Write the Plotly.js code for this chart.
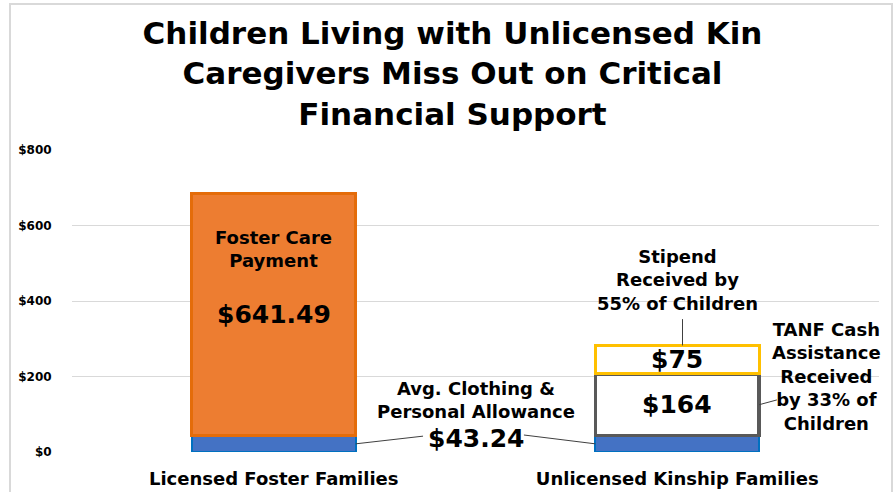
<!DOCTYPE html>
<html>
<head>
<meta charset="utf-8">
<script src="https://cdn.plot.ly/plotly-3.0.1.min.js"></script>
<style>
  html, body { margin: 0; padding: 0; background: #ffffff; }
  #wrap { position: relative; width: 896px; height: 492px; overflow: hidden; }
  #chart { position: absolute; left: 0; top: 0; width: 896px; height: 492px; }
  #frame { position: absolute; left: 9px; top: 3px; width: 884px; height: 520px;
           border: 2px solid #d9d9d9; pointer-events: none; box-sizing: border-box; }
</style>
</head>
<body>
<div id="wrap">
  <div id="chart"></div>
  <div id="frame"></div>
</div>
<script>
// ---- Data ----
const categories = ['Licensed Foster Families', 'Unlicensed Kinship Families'];
const clothingAllowance = [43.24, 43.24];   // Avg. Clothing & Personal Allowance
const fosterCarePayment = [641.49, null];   // Foster Care Payment
const tanfCash = [null, 164];               // TANF Cash Assistance
const kinshipStipend = [null, 75];          // Stipend
const yTickVals = [0, 200, 400, 600, 800];
const yTickText = ['$0', '$200', '$400', '$600', '$800'];
const titleText = 'Children Living with Unlicensed Kin<br>Caregivers Miss Out on Critical<br>Financial Support';

// ---- Style ----
const FONT = 'DejaVu Sans, Verdana, Arial, sans-serif';
const barWidth = 0.406;
const half = barWidth / 2;

const traces = [
  { type: 'bar', x: categories, y: clothingAllowance, width: barWidth,
    marker: { color: '#4472C4', line: { color: '#0070C0', width: 2 } }, hoverinfo: 'skip' },
  { type: 'bar', x: categories, y: fosterCarePayment, width: barWidth,
    marker: { color: '#ED7D31', line: { color: '#E46C0A', width: 3 } }, hoverinfo: 'skip' },
  { type: 'bar', x: categories, y: tanfCash, width: barWidth,
    marker: { color: '#FFFFFF', line: { color: '#595959', width: 3.5 } }, hoverinfo: 'skip' },
  { type: 'bar', x: categories, y: kinshipStipend, width: barWidth,
    marker: { color: '#FFFFFF', line: { color: '#FFC000', width: 3 } }, hoverinfo: 'skip' }
];

const fmt2 = v => '$' + v.toFixed(2);
const fmt0 = v => '$' + Math.round(v);

const labelFont = { family: FONT, size: 18, color: '#000000', weight: 'bold' };
const bigFont = { family: FONT, size: 25, color: '#000000', weight: 'bold' };

const leftMidFoster = clothingAllowance[0] + fosterCarePayment[0] / 2;
const rightTanfMid = clothingAllowance[1] + tanfCash[1] / 2;
const rightStipMid = clothingAllowance[1] + tanfCash[1] + kinshipStipend[1] / 2;
const rightTop = clothingAllowance[1] + tanfCash[1] + kinshipStipend[1];

const annotations = [
  { x: 0, y: 539, text: 'Foster Care<br>Payment', font: labelFont },
  { x: 0, y: leftMidFoster, text: fmt2(fosterCarePayment[0]), font: bigFont },
  { x: 0.5, y: 138, text: 'Avg. Clothing &<br>Personal Allowance', font: labelFont },
  { x: 0.5, y: 37, text: fmt2(clothingAllowance[0]), font: bigFont },
  { x: 1, y: 455, text: 'Stipend<br>Received by<br>55% of Children', font: labelFont },
  { x: 1, y: rightStipMid, text: fmt0(kinshipStipend[1]), font: bigFont },
  { x: 1, y: rightTanfMid, text: fmt0(tanfCash[1]), font: bigFont },
  { x: 1.369, y: 199, text: 'TANF Cash<br>Assistance<br>Received<br>by 33% of<br>Children', font: labelFont }
].map(a => Object.assign({ xref: 'x', yref: 'y', showarrow: false, xanchor: 'center', yanchor: 'middle' }, a));

const leader = { color: '#404040', width: 1 };
const shapes = [
  { type: 'line', xref: 'x', yref: 'y', x0: 0 + half, y0: clothingAllowance[0] / 2, x1: 0.37, y1: 42, line: leader },
  { type: 'line', xref: 'x', yref: 'y', x0: 0.62, y0: 45, x1: 1 - half, y1: clothingAllowance[1] / 2, line: leader },
  { type: 'line', xref: 'x', yref: 'y', x0: 1.013, y0: 352, x1: 1.013, y1: rightTop, line: leader },
  { type: 'line', xref: 'x', yref: 'y', x0: 1 + half, y0: rightTanfMid, x1: 1.247, y1: 138, line: leader }
];

const layout = {
  width: 896, height: 492,
  margin: { l: 72, r: 17, t: 150, b: 40 },
  paper_bgcolor: '#FFFFFF', plot_bgcolor: '#FFFFFF',
  barmode: 'stack',
  showlegend: false,
  title: {
    text: titleText,
    font: { family: FONT, size: 31, color: '#000000', weight: 'bold' },
    x: 0.505, xanchor: 'center',
    y: 1 - 44 / 492, yanchor: 'middle', yref: 'container'
  },
  xaxis: {
    type: 'category', range: [-0.5, 1.5],
    showgrid: false, zeroline: false, showline: false,
    ticks: 'outside', ticklen: 10, tickcolor: 'rgba(0,0,0,0)',
    tickfont: { family: FONT, size: 18, color: '#000000', weight: 'bold' }
  },
  yaxis: {
    range: [0, 800],
    tickvals: yTickVals, ticktext: yTickText,
    showgrid: true, gridcolor: '#d9d9d9', gridwidth: 1,
    zeroline: false, showline: false,
    ticks: 'outside', ticklen: 17, tickcolor: 'rgba(0,0,0,0)',
    tickfont: { family: FONT, size: 12, color: '#000000', weight: 'bold' }
  },
  annotations: annotations,
  shapes: shapes
};

Plotly.newPlot('chart', traces, layout, { displayModeBar: false, staticPlot: true });
</script>
</body>
</html>
